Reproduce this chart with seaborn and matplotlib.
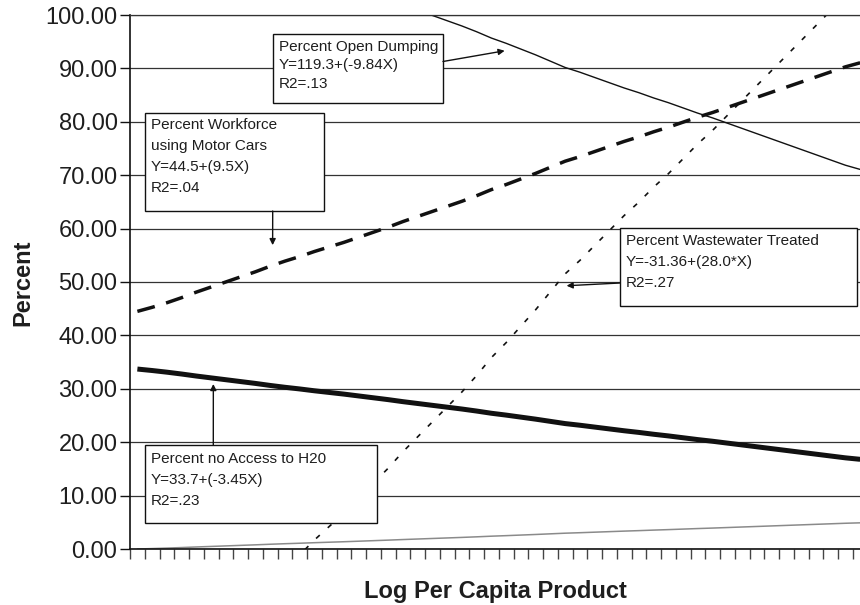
import numpy as np
import pandas as pd
import matplotlib
matplotlib.use("Agg")
import matplotlib.pyplot as plt
from matplotlib.patches import Rectangle
import seaborn as sns

# Log per capita product for the 50 ranked cases (also drawn as the grey base series)
log_product = [0.00, 0.08, 0.17, 0.27, 0.38, 0.48, 0.58, 0.68, 0.78, 0.89,
               0.99, 1.08, 1.18, 1.27, 1.36, 1.46, 1.56, 1.66, 1.77, 1.87,
               1.97, 2.07, 2.17, 2.28, 2.40, 2.50, 2.61, 2.72, 2.84, 2.96,
               3.05, 3.15, 3.25, 3.35, 3.44, 3.54, 3.63, 3.73, 3.83, 3.92,
               4.02, 4.12, 4.22, 4.32, 4.42, 4.52, 4.62, 4.72, 4.82, 4.90]

# Regression fits (intercept, slope) as reported in the call-out boxes
dumping_fit = (119.3, -9.84)
motor_fit = (44.5, 9.5)
wastewater_fit = (-31.36, 28.0)
water_fit = (33.7, -3.45)

y_ticks = [0, 10, 20, 30, 40, 50, 60, 70, 80, 90, 100]

x = np.array(log_product)
df = pd.DataFrame({
    "case": np.arange(len(log_product)),
    "log_product": x,
    "dumping": dumping_fit[0] + dumping_fit[1] * x,
    "motor": motor_fit[0] + motor_fit[1] * x,
    "wastewater": wastewater_fit[0] + wastewater_fit[1] * x,
    "water": water_fit[0] + water_fit[1] * x,
})

sns.set_style("white")
plt.rcParams["font.family"] = ["Liberation Sans", "DejaVu Sans"]

W, H = 860, 605
fig = plt.figure(figsize=(W / 100, H / 100), dpi=100)
ax = fig.add_axes([130 / W, (H - 549) / H, 737.5 / W, 534 / H])

sns.lineplot(data=df, x="case", y="log_product", ax=ax, color="#8a8a8a", lw=1.1)
sns.lineplot(data=df, x="case", y="water", ax=ax, color="#111111", lw=3.6,
             solid_capstyle="butt")
sns.lineplot(data=df, x="case", y="motor", ax=ax, color="#111111", lw=2.5,
             linestyle=(0, (5.2, 3.4)), dash_capstyle="butt")
sns.lineplot(data=df, x="case", y="wastewater", ax=ax, color="#111111", lw=1.2,
             linestyle=(0, (3.0, 6.5)), dash_capstyle="butt")
sns.lineplot(data=df, x="case", y="dumping", ax=ax, color="#111111", lw=1.0)

ax.set_xlim(-0.5, len(log_product) - 0.5)
ax.set_ylim(0, 100)
ax.set_xlabel("")
ax.set_ylabel("")

ax.set_yticks(y_ticks)
ax.set_yticklabels([f"{v:.2f}" for v in y_ticks], fontsize=17, color="#1e1e1e")
ax.set_xticks(np.arange(-0.5, len(log_product), 1.0))
ax.set_xticklabels([])
ax.tick_params(axis="y", direction="out", length=7, width=1.0, color="#111111", pad=2,
               left=True)
ax.tick_params(axis="x", direction="out", length=7.5, width=1.0, color="#444444",
               bottom=True)

ax.yaxis.grid(True, color="#333333", lw=0.9)
ax.xaxis.grid(False)
for side in ("left", "bottom"):
    ax.spines[side].set_color("#111111")
    ax.spines[side].set_linewidth(1.2)
ax.spines["top"].set_color("#333333")
ax.spines["top"].set_linewidth(0.9)
ax.spines["right"].set_visible(False)

fig.text(495 / W, 1 - 598 / H, "Log Per Capita Product", ha="center", va="baseline",
         fontsize=17, fontweight="bold", color="#1e1e1e")
fig.text(22.5 / W, 1 - 283 / H, "Percent", ha="center", va="center", rotation=90,
         fontsize=17, fontweight="bold", color="#1e1e1e")


def fx(px):
    return px / W


def fy(py):
    return 1 - py / H


def callout(box, lines, first_baseline, spacing):
    x0, y0, x1, y1 = box
    ax.add_patch(Rectangle((fx(x0), fy(y1)), (x1 - x0) / W, (y1 - y0) / H,
                           transform=fig.transFigure, clip_on=False, zorder=5,
                           facecolor="white", edgecolor="#111111", lw=1.0))
    for k, line in enumerate(lines):
        ax.text(fx(x0 + 6), fy(first_baseline + k * spacing), line,
                transform=fig.transFigure, ha="left", va="baseline",
                fontsize=11, color="#1e1e1e", zorder=6, clip_on=False)


def pointer(tail_px, tip_data):
    ax.annotate("", xy=tip_data, xycoords="data",
                xytext=(tail_px[0], H - tail_px[1]), textcoords="figure pixels",
                arrowprops=dict(arrowstyle="-|>", color="#111111", lw=1.0,
                                mutation_scale=9, shrinkA=0, shrinkB=0),
                zorder=7, annotation_clip=False)


callout((272.7, 34, 442.7, 103.3),
        ["Percent Open Dumping", "Y=119.3+(-9.84X)", "R2=.13"], 50.7, 18.5)
pointer((443, 61.5), (24.9, 93.3))

callout((145, 112.7, 324.3, 211),
        ["Percent Workforce", "using Motor Cars", "Y=44.5+(9.5X)", "R2=.04"], 129.3, 21)
pointer((272.7, 211), (9.17, 56.9))

callout((620, 228.3, 856.7, 306),
        ["Percent Wastewater Treated", "Y=-31.36+(28.0*X)", "R2=.27"], 245, 21)
pointer((620, 283), (29.1, 49.3))

callout((145, 445, 376.7, 523.3),
        ["Percent no Access to H20", "Y=33.7+(-3.45X)", "R2=.23"], 462.7, 21)
pointer((213.3, 445), (5.15, 30.9))

fig.savefig("out.png", dpi=100)
